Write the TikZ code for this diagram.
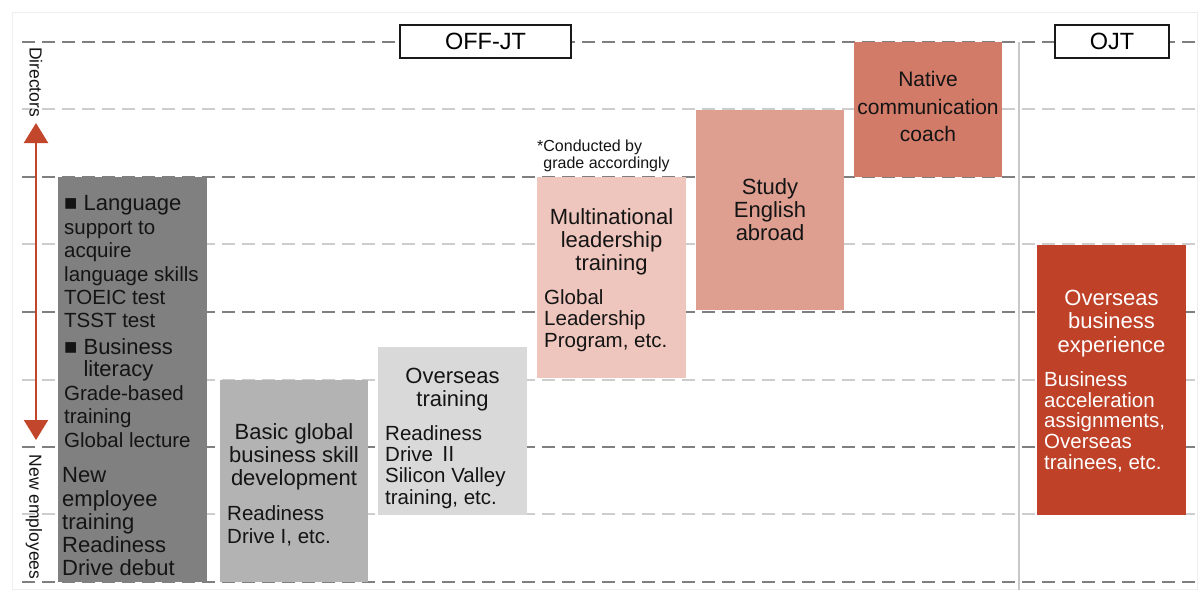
\documentclass[tikz,border=0pt]{standalone}
\usepackage{fontspec}
\setmainfont{Liberation Sans}
\newfontfamily\cjkfont{Noto Sans CJK JP}
\usetikzlibrary{arrows.meta,positioning}
\definecolor{gridcol}{HTML}{7F7F7F}
\definecolor{gridlt}{HTML}{CDCDCD}
\definecolor{sepcol}{HTML}{C8C8C8}
\definecolor{framecol}{HTML}{EEEEEE}
\definecolor{grayA}{HTML}{808080}
\definecolor{grayB}{HTML}{B3B3B3}
\definecolor{grayC}{HTML}{D9D9D9}
\definecolor{redA}{HTML}{EFC6BD}
\definecolor{redB}{HTML}{DE9F91}
\definecolor{redC}{HTML}{D27B69}
\definecolor{redD}{HTML}{BE4128}
\definecolor{arrowcol}{HTML}{C1462B}
\definecolor{txtcol}{HTML}{141414}
\newcommand{\hdfont}{\fontsize{22}{23}\selectfont}
\newcommand{\bdfont}{\fontsize{20.5}{23}\selectfont}

\begin{document}
\begin{tikzpicture}[x=1pt,y=-1pt,
  blk/.style={anchor=north west,inner sep=0pt,outer sep=0pt},
  hd/.style={inner sep=0pt,align=center,font=\hdfont,text=txtcol},
  bd/.style={inner sep=0pt,align=left,font=\bdfont,text=txtcol},
  tag/.style={draw=black!90,line width=2pt,fill=white,inner sep=0pt,
              minimum height=33pt,font=\fontsize{23.5}{25}\selectfont},
  major/.style={gridcol,line width=2pt,dash pattern=on 13pt off 7pt},
  minor/.style={gridlt,line width=1.5pt,dash pattern=on 13pt off 7pt},
  side/.style={rotate=-90,inner sep=0pt,font=\fontsize{17.5}{19}\selectfont,text=txtcol},
  dbl/.style={{Triangle[width=24pt,length=20pt]}-{Triangle[width=24pt,length=20pt]},
              arrowcol,line width=2.2pt},
]
\useasboundingbox (0,0) rectangle (1198,590);
\draw[framecol,line width=0.8pt] (12,12) rectangle (1197,589);

% grade lines
\foreach \y in {109,244,380,514}
  \draw[minor] (22,\y) -- (1198,\y);
\foreach \y in {42,177,312,447,582}
  \draw[major] (22,\y) -- (1198,\y);
\draw[sepcol,line width=1.5pt] (1019,42) -- (1019,590);

% programme blocks
\node[blk,fill=grayA,minimum width=149pt,minimum height=405pt] (lang) at (58,177) {};
\node[blk,fill=grayB,minimum width=148pt,minimum height=202pt] (basic) at (220,380) {};
\node[blk,fill=grayC,minimum width=149pt,minimum height=168pt] (ovtr) at (378,347) {};
\node[blk,fill=redA,minimum width=149pt,minimum height=201pt] (multi) at (537,177) {};
\node[blk,fill=redB,minimum width=148pt,minimum height=200pt] (study) at (696,110) {};
\node[blk,fill=redC,minimum width=148pt,minimum height=135pt] (native) at (854,42) {};
\node[blk,fill=redD,minimum width=149pt,minimum height=270pt] (ovbiz) at (1037,245) {};

% headers
\node[tag,minimum width=171pt] (offjt) at (485.5,41.5) {OFF-JT};
\node[tag,minimum width=114pt] (ojt) at (1112,41) {OJT};

% texts of the blocks
\node[bd,font=\hdfont,below right=18.6pt and 6pt of lang.north west] (langhd) {■ Language};
\node[bd,font=\fontsize{20.5}{23.25}\selectfont,below right=44.2pt and 6pt of lang.north west] (langbd)
  {support to\\acquire\\language skills\\TOEIC test\\TSST test};
\node[bd,font=\fontsize{22}{22}\selectfont,below right=161.6pt and 6pt of lang.north west] (bizhd)
  {■ Business\\\phantom{■ }literacy};
\node[bd,font=\fontsize{20.5}{23.5}\selectfont,below right=208.2pt and 6pt of lang.north west] (bizbd)
  {Grade-based\\training\\Global lecture};
\node[bd,font=\fontsize{22}{23.25}\selectfont,below right=290.6pt and 4pt of lang.north west] (newhd)
  {New\\employee\\training\\Readiness\\Drive debut};

\node[hd,below=43.6pt of basic.north] (basichd) {Basic global\\business skill\\development};
\node[bd,below right=125.2pt and 7pt of basic.north west] (basicbd) {Readiness\\Drive I, etc.};

\node[hd,below=20.6pt of ovtr.north] (ovtrhd) {Overseas\\training};
\node[bd,font=\fontsize{20.5}{21.3}\selectfont,below right=78.2pt and 7pt of ovtr.north west] (ovtrbd)
  {Readiness\\Drive {\cjkfont Ⅱ}\\Silicon Valley\\training, etc.};

\node[hd,below=31.6pt of multi.north] (multihd) {Multinational\\leadership\\training};
\node[bd,font=\fontsize{20.5}{21.5}\selectfont,below right=112.2pt and 7pt of multi.north west] (multibd)
  {Global\\Leadership\\Program, etc.};
\node[bd,font=\fontsize{16}{17}\selectfont,above right=5pt and 0pt of multi.north west] (note)
  {*Conducted by\\\phantom{*}grade accordingly};

\node[hd,below=68.6pt of study.north] (studyhd) {Study\\English\\abroad};

\node[hd,font=\fontsize{21}{27.5}\selectfont,below=29.2pt of native.north] (nativehd)
  {Native\\communication\\coach};

\node[hd,text=white,font=\fontsize{22}{23.5}\selectfont,below=44.6pt of ovbiz.north] (ovbizhd)
  {Overseas\\business\\experience};
\node[bd,text=white,font=\fontsize{20.5}{20.75}\selectfont,below right=126.2pt and 7pt of ovbiz.north west] (ovbizbd)
  {Business\\acceleration\\assignments,\\Overseas\\trainees, etc.};

% grade axis
\node[side] (dir) at (36,82) {Directors};
\node[side] (newemp) at (34,517) {New employees};
\coordinate (uptip) at (36,123);
\coordinate (downtip) at (36,440);
\draw[dbl] (downtip) -- (uptip);
\end{tikzpicture}
\end{document}
